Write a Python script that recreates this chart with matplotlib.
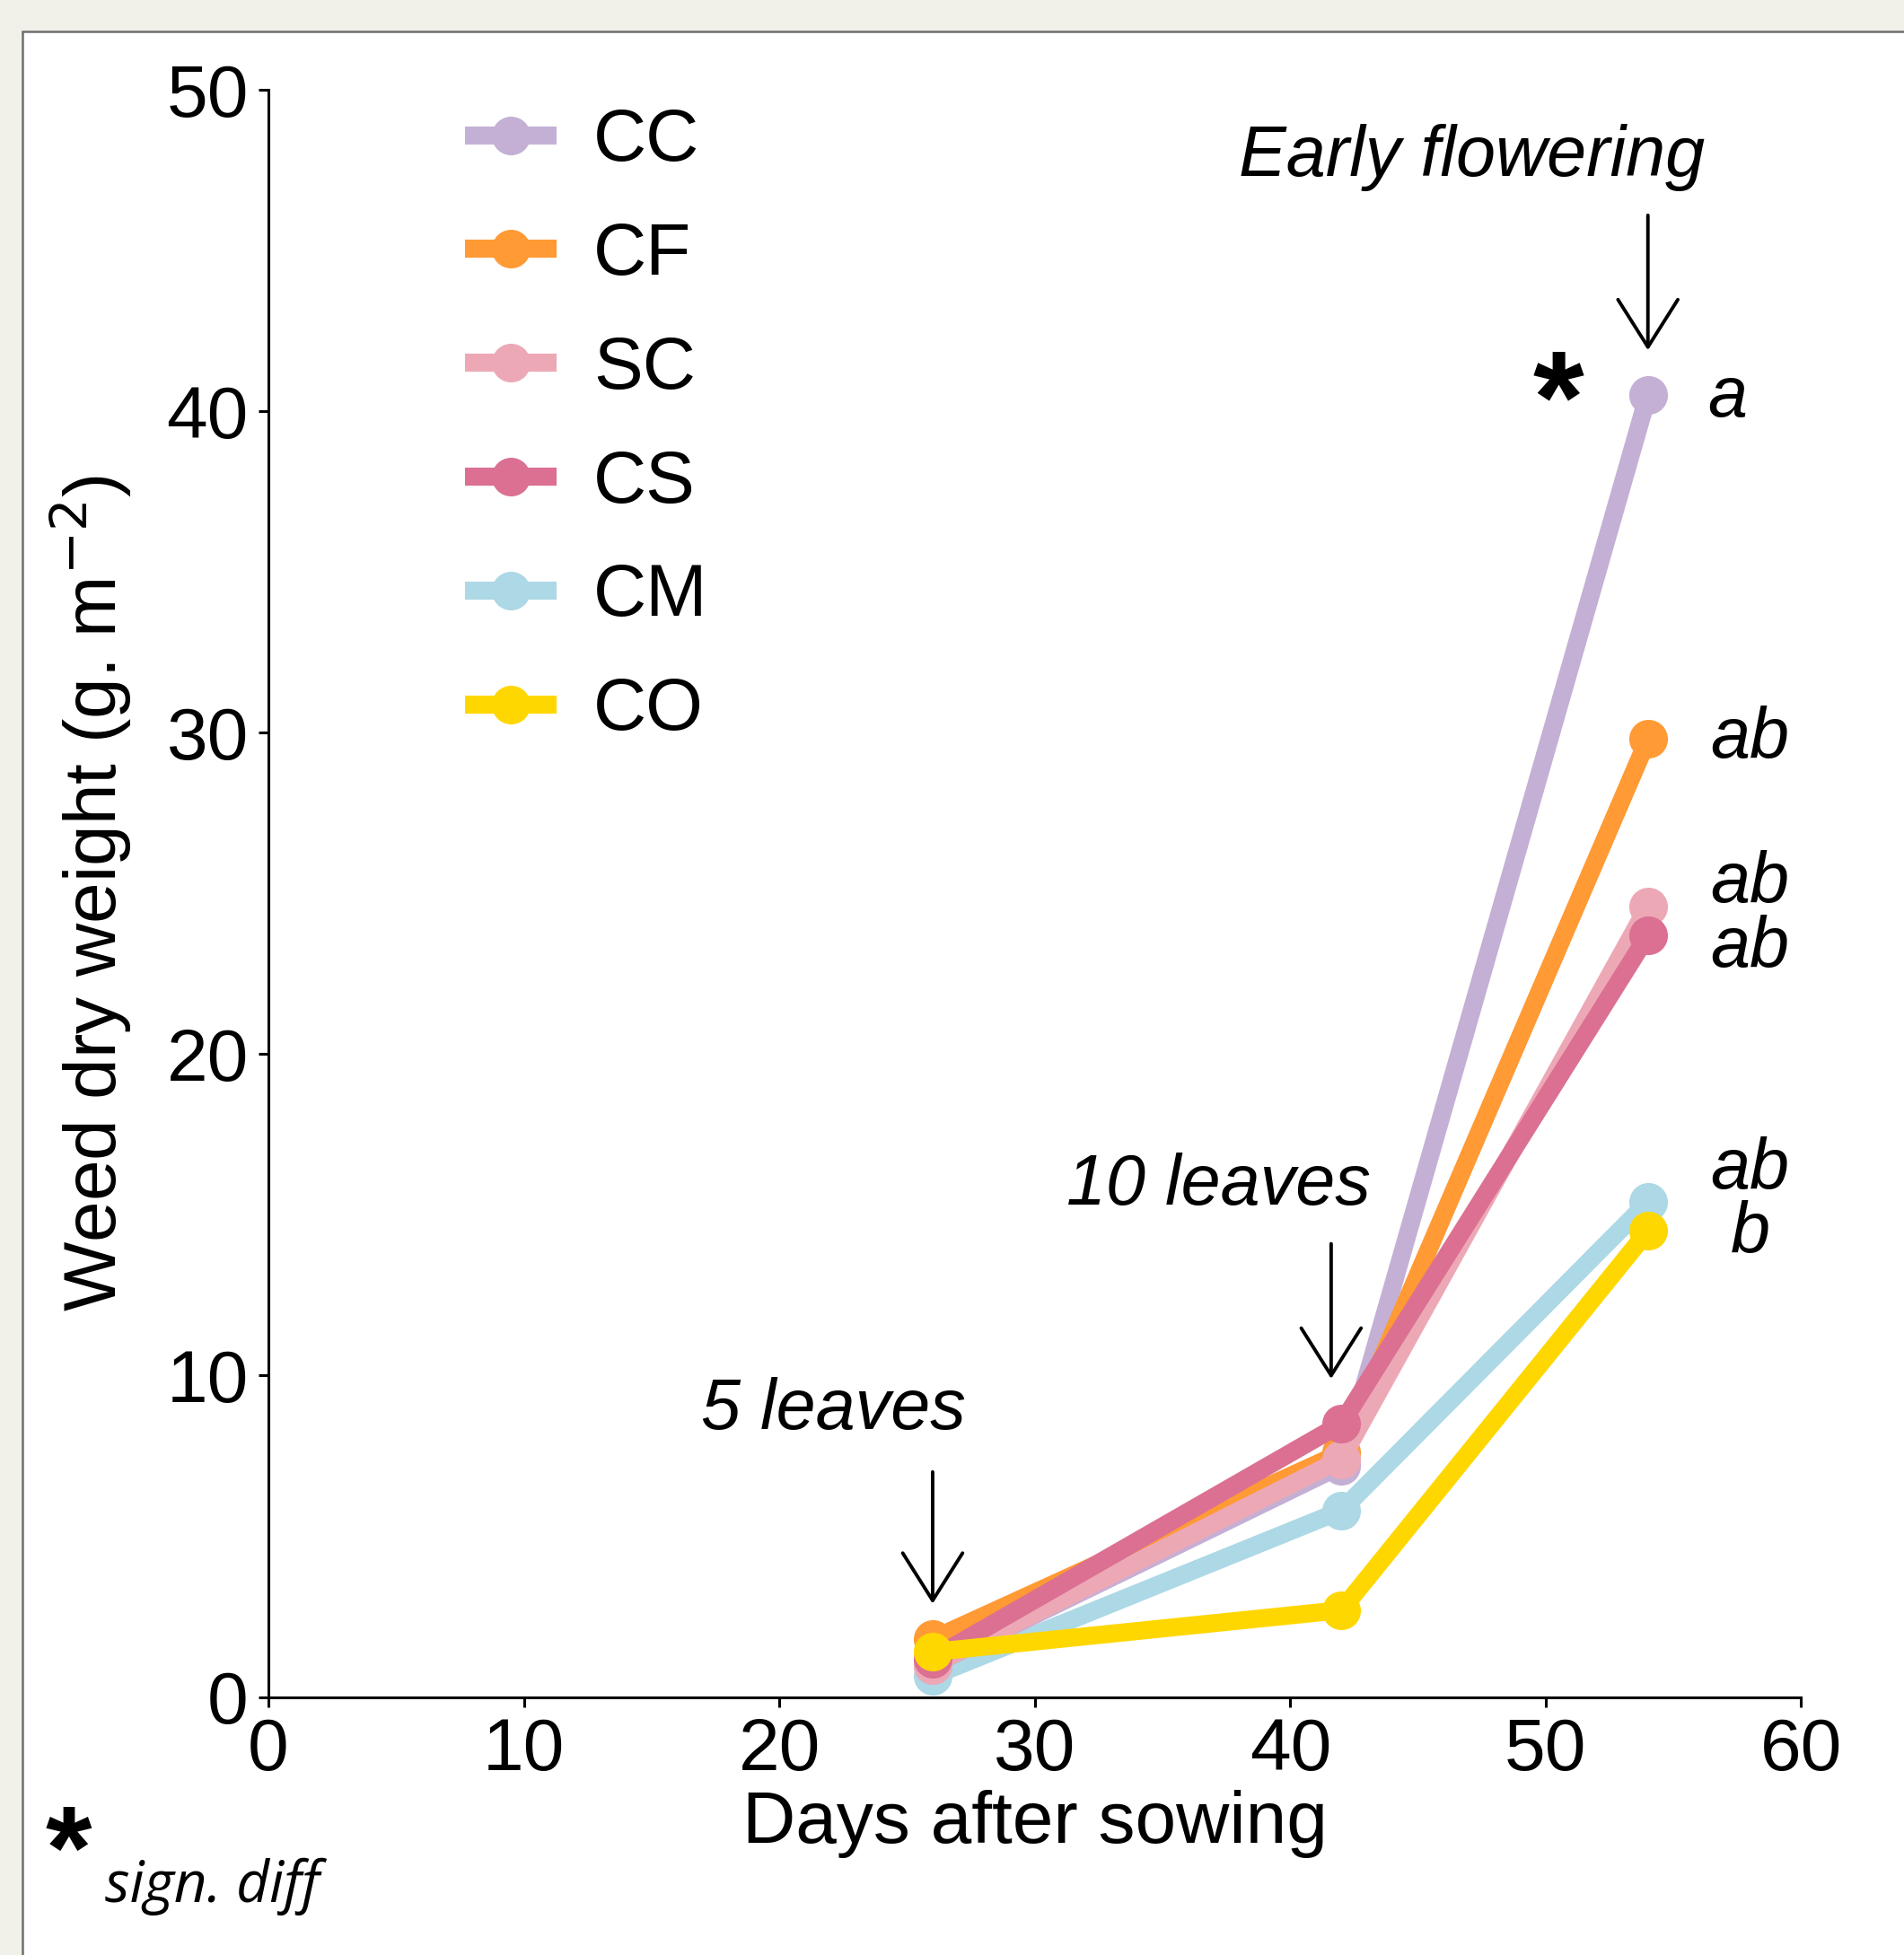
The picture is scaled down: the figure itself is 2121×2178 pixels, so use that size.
import matplotlib
matplotlib.use("Agg")
import matplotlib.pyplot as plt
from matplotlib.patches import Rectangle

plt.rcParams['font.family'] = ['Liberation Sans', 'DejaVu Sans']

# data
days = [26, 42, 54]
treatments = ['CC', 'CF', 'SC', 'CS', 'CM', 'CO']
cc = [1.0, 7.2, 40.5]
cf = [1.8, 7.6, 29.8]
sc = [1.0, 7.4, 24.6]
cs = [1.2, 8.5, 23.7]
cm = [0.65, 5.8, 15.4]
co = [1.4, 2.7, 14.5]
series = [cc, cf, sc, cs, cm, co]
colors = ['#C4B0D5', '#FF9A35', '#EDA8B6', '#DB7092', '#ADD8E6', '#FFD700']
zorders = [3, 4, 5, 6, 2, 7]

letters = ['a', 'ab', 'ab', 'ab', 'ab', 'b']
letter_y = [40.4, 29.8, 25.3, 23.3, 16.4, 14.4]
letter_x = [57.1, 58.0, 58.0, 58.0, 58.0, 58.0]

stages = ['5 leaves', '10 leaves', 'Early flowering']
stage_x = [26, 41.6, 54]
stage_text_xy = [(22.1, 8.9), (37.2, 15.9), (47.1, 47.9)]
arrow_top = [7.0, 14.1, 46.1]
arrow_bot = [2.9, 9.9, 41.9]

fig = plt.figure(figsize=(21.21, 21.78), dpi=100)
fig.patch.set_facecolor('#F1F1EA')
panel = Rectangle((0.0118, -0.01), 1.2, 0.994, transform=fig.transFigure,
                  facecolor='white', edgecolor='#6E6E6E', linewidth=1.8, zorder=-10)
fig.patches.append(panel)

ax = fig.add_axes([0.141, 0.132, 0.805, 0.822])
ax.set_facecolor('none')

for name, vals, col, z in zip(treatments, series, colors, zorders):
    ax.plot(days, vals, '-o', color=col, lw=14.5, markersize=30,
            label=name, zorder=z, clip_on=False, solid_capstyle='butt')

ax.set_xlim(0, 60)
ax.set_ylim(0, 50)
ax.set_xticks(range(0, 61, 10))
ax.set_yticks(range(0, 51, 10))
for s in ['top', 'right']:
    ax.spines[s].set_visible(False)
for s in ['left', 'bottom']:
    ax.spines[s].set_linewidth(2.2)
ax.tick_params(labelsize=59, length=8, width=2.2, pad=8)

ax.set_xlabel('Days after sowing', fontsize=59, labelpad=4)
ax.set_ylabel('Weed dry weight (g. m$^{-2}$)', fontsize=59, labelpad=26)

# growth stage annotations
for txt, x, (tx, ty), y0, y1 in zip(stages, stage_x, stage_text_xy, arrow_top, arrow_bot):
    ax.text(tx, ty, txt, fontsize=57, style='italic', ha='center', va='center')
    ax.annotate('', xy=(x, y1), xytext=(x, y0),
                arrowprops=dict(arrowstyle='->,head_length=3.8,head_width=2.4',
                                mutation_scale=10, lw=2.8, color='black',
                                shrinkA=0, shrinkB=0))

for t, x, y in zip(letters, letter_x, letter_y):
    ax.text(x, y, t, fontsize=57, style='italic', ha='center', va='center', clip_on=False)

ax.text(50.5, 40.1, '*', fontsize=105, fontweight='bold', ha='center', va='center')

leg = ax.legend(loc='upper left', bbox_to_anchor=(0.085, 1.03), frameon=False,
                fontsize=59, handlelength=1.25, handletextpad=0.5, labelspacing=0.62,
                markerscale=1.0)

fig.text(0.036, 0.05, '*', fontsize=95, fontweight='bold', ha='center', va='center')
fig.text(0.055, 0.035, 'sign. diff', fontsize=46, style='italic', family='Open Sans',
         ha='left', va='center')

fig.savefig('out.png', dpi=100, facecolor=fig.get_facecolor())
